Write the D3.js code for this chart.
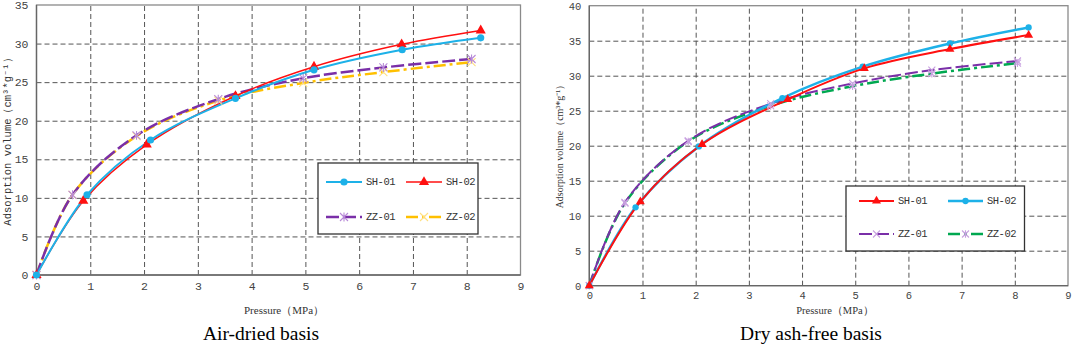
<!DOCTYPE html>
<html><head><meta charset="utf-8">
<script src="https://cdn.jsdelivr.net/npm/d3@7"></script>
<style>
html,body{margin:0;padding:0;background:#fff;}
svg{display:block;}
</style></head>
<body>
<svg id="c" width="1072" height="346"></svg>
<script>
// ---------- DATA ----------
const xTicks = [0,1,2,3,4,5,6,7,8,9];
const adYTicks = [0,5,10,15,20,25,30,35];
const dafYTicks = [0,5,10,15,20,25,30,35,40];

// Air-dried basis
const adSH01P = [0,0.94,2.12,3.70,5.16,6.80,8.26];
const adSH01V = [0,10.4,17.5,22.9,26.6,29.2,30.75];
const adSH02P = [0,0.87,2.05,3.70,5.16,6.79,8.26];
const adSH02V = [0,9.6,16.9,23.2,27.0,29.9,31.7];
const adZZ01P = [0,0.67,1.86,3.38,4.96,6.45,8.09];
const adZZ01V = [0,10.4,18.1,22.8,25.5,26.9,28.0];
const adZZ02P = [0,0.67,1.86,3.38,4.96,6.45,8.09];
const adZZ02V = [0,10.4,18.0,22.6,24.9,26.3,27.6];

// Dry ash-free basis
const dafSH01P = [0,0.96,2.12,3.73,5.17,6.78,8.26];
const dafSH01V = [0,12.0,20.2,26.6,31.05,33.8,35.8];
const dafSH02P = [0,0.87,2.06,3.63,5.14,6.78,8.26];
const dafSH02V = [0,11.2,19.9,26.8,31.3,34.6,36.9];
const dafZZ01P = [0,0.67,1.86,3.41,4.95,6.44,8.05];
const dafZZ01V = [0,11.9,20.7,26.0,28.9,30.8,32.1];
const dafZZ02P = [0,0.67,1.86,3.41,4.95,6.44,8.05];
const dafZZ02V = [0,11.8,20.6,25.7,28.5,30.3,31.8];

const seriesNames = ["SH-01","SH-02","ZZ-01","ZZ-02"];
const yTitle = "Adsorption volume\uFF08cm\u00B3*g\u207B\u00B9\uFF09";
const xTitle = "Pressure\uFF08MPa\uFF09";
const captions = ["Air-dried basis","Dry ash-free basis"];

// ---------- DRAWING ----------
const svg = d3.select("#c");
const MONO = "'Liberation Mono','DejaVu Sans Mono',monospace";
const SERIF = "'Liberation Serif','Times New Roman',serif";

function zip(p,v){ return p.map((d,i)=>({x:d,y:v[i]})); }

function marker(g, type, x, y, color, s){
  if(type==="circle"){
    g.append("circle").attr("cx",x).attr("cy",y).attr("r",s*0.45).attr("fill",color);
  } else if(type==="tri"){
    g.append("path").attr("d",d3.symbol(d3.symbolTriangle, s*s*0.55)()).attr("transform",`translate(${x},${y})`).attr("fill",color);
  } else if(type==="star"){
    const r=s*0.5;
    g.append("path").attr("d",`M${x-r},${y-r}L${x+r},${y+r}M${x-r},${y+r}L${x+r},${y-r}M${x},${y-r*1.1}L${x},${y+r*1.1}`)
      .attr("stroke",color).attr("stroke-width",1.1).attr("fill","none");
  } else if(type==="x"){
    const r=s*0.5;
    g.append("path").attr("d",`M${x-r},${y-r}L${x+r},${y+r}M${x-r},${y+r}L${x+r},${y-r}`)
      .attr("stroke",color).attr("stroke-width",1.1).attr("fill","none");
  }
}

function chart(cfg){
  const g = svg.append("g");
  const x = d3.scaleLinear().domain([0,9]).range([cfg.x0,cfg.x1]);
  const y = d3.scaleLinear().domain([0,cfg.ymax]).range([cfg.y0,cfg.y1]);

  // grid
  g.append("g").attr("transform",`translate(0,${cfg.y0})`)
    .call(d3.axisBottom(x).tickValues(xTicks.slice(1,-1)).tickSize(-(cfg.y0-cfg.y1)).tickFormat(""))
    .call(a=>a.select(".domain").remove())
    .call(a=>a.selectAll("line").attr("stroke","#555").attr("stroke-dasharray","5,3").attr("stroke-width",1));
  g.append("g").attr("transform",`translate(${cfg.x0},0)`)
    .call(d3.axisLeft(y).tickValues(cfg.yTicks.slice(1,-1)).tickSize(-(cfg.x1-cfg.x0)).tickFormat(""))
    .call(a=>a.select(".domain").remove())
    .call(a=>a.selectAll("line").attr("stroke","#555").attr("stroke-dasharray","5,3").attr("stroke-width",1));
  // frame
  g.append("rect").attr("x",cfg.x0).attr("y",cfg.y1).attr("width",cfg.x1-cfg.x0).attr("height",cfg.y0-cfg.y1)
    .attr("fill","none").attr("stroke","#8a8a8a").attr("stroke-width",1.3);
  g.append("line").attr("x1",cfg.x0).attr("x2",cfg.x1).attr("y1",cfg.y0).attr("y2",cfg.y0).attr("stroke","#666").attr("stroke-width",1.3);
  g.append("line").attr("x1",cfg.x0).attr("x2",cfg.x0).attr("y1",cfg.y0).attr("y2",cfg.y1).attr("stroke","#666").attr("stroke-width",1.3);

  // tick labels
  g.append("g").attr("transform",`translate(0,${cfg.y0})`)
    .call(d3.axisBottom(x).tickValues(xTicks).tickSize(0).tickPadding(cfg.xPad))
    .call(a=>a.select(".domain").remove())
    .call(a=>a.selectAll("text").attr("font-family",MONO).attr("font-size",cfg.tickFs).attr("fill","#444"));
  g.append("g").attr("transform",`translate(${cfg.x0},0)`)
    .call(d3.axisLeft(y).tickValues(cfg.yTicks).tickSize(0).tickPadding(cfg.yPad))
    .call(a=>a.select(".domain").remove())
    .call(a=>a.selectAll("text").attr("font-family",MONO).attr("font-size",cfg.tickFs).attr("fill","#444"));

  // axis titles
  g.append("text").attr("x",cfg.xtX).attr("y",cfg.xtY).attr("text-anchor","middle")
    .attr("font-family",SERIF).attr("font-size",cfg.xtFs).attr("fill","#333").text(xTitle);
  g.append("text").attr("transform",`translate(${cfg.ytX},${cfg.ytY}) rotate(-90)`).attr("text-anchor","middle")
    .attr("dominant-baseline","middle")
    .attr("font-family",cfg.ytFont).attr("font-size",cfg.ytFs).attr("fill","#333").text(yTitle);
  // caption
  g.append("text").attr("x",cfg.capX).attr("y",340).attr("text-anchor","middle")
    .attr("font-family",SERIF).attr("font-size",19.5).attr("fill","#000").text(cfg.caption);

  // series
  const line = d3.line().x(d=>x(d.x)).y(d=>y(d.y)).curve(d3.curveCatmullRom.alpha(0.5));
  const order = cfg.series.slice().reverse();
  order.forEach(s=>{
    const data = zip(s.p,s.v);
    g.append("path").datum(data).attr("d",line).attr("fill","none")
      .attr("stroke",s.color).attr("stroke-width",s.w).attr("stroke-dasharray",s.dash||null);
  });
  order.forEach(s=>{
    zip(s.p,s.v).forEach(d=>marker(g,s.mk,x(d.x),y(d.y),s.mkColor,s.mkSize));
  });

  // legend
  const L = cfg.legend;
  g.append("rect").attr("x",L.x).attr("y",L.y).attr("width",L.w).attr("height",L.h)
    .attr("fill","#fff").attr("stroke","#333").attr("stroke-width",1.3);
  cfg.series.forEach((s,i)=>{
    const col=i%2, row=Math.floor(i/2);
    const lx = L.x + L.c[col], ly = L.y + L.r[row];
    g.append("line").attr("x1",lx).attr("x2",lx+L.len).attr("y1",ly).attr("y2",ly)
      .attr("stroke",s.color).attr("stroke-width",s.w).attr("stroke-dasharray",s.dash||null);
    marker(g,s.mk,lx+L.len/2,ly,s.mkColor,s.mkSize);
    g.append("text").attr("x",lx+L.len+4).attr("y",ly).attr("dominant-baseline","central")
      .attr("font-family",MONO).attr("font-size",L.fs).attr("letter-spacing",-0.5).attr("fill","#333").text(seriesNames[i]);
  });
}

const CY="#1DB1E8", RED="#FF1010", PUR="#7A2FA8", YEL="#FFC000", GRN="#00A850";

chart({
  x0:36.5,x1:520.5,y0:275,y1:5,ymax:35,yTicks:adYTicks,
  tickFs:11.5,xPad:7,yPad:8,
  xtX:284,xtY:314,xtFs:11,ytX:8,ytY:139,ytFs:10.5,ytFont:MONO,
  capX:261,caption:captions[0],
  series:[
    {p:adSH01P,v:adSH01V,color:CY,w:2,mk:"circle",mkColor:CY,mkSize:8},
    {p:adSH02P,v:adSH02V,color:RED,w:1.5,mk:"tri",mkColor:RED,mkSize:9},
    {p:adZZ01P,v:adZZ01V,color:PUR,w:2.5,dash:"13,4",mk:"star",mkColor:"#B88AD8",mkSize:8},
    {p:adZZ02P,v:adZZ02V,color:YEL,w:2.5,dash:"12,4,3,4",mk:"x",mkColor:"#FFE080",mkSize:8}
  ],
  legend:{x:318,y:163,w:160,h:71,c:[8,88],r:[19,54],len:36,fs:10.5}
});

chart({
  x0:589.3,x1:1068,y0:285.7,y1:5.7,ymax:40,yTicks:dafYTicks,
  tickFs:10.5,xPad:6,yPad:8,
  xtX:835,xtY:314,xtFs:10.5,ytX:561,ytY:144,ytFs:10,ytFont:SERIF,
  capX:811,caption:captions[1],
  series:[
    {p:dafSH01P,v:dafSH01V,color:RED,w:2,mk:"tri",mkColor:RED,mkSize:8},
    {p:dafSH02P,v:dafSH02V,color:CY,w:2.5,mk:"circle",mkColor:CY,mkSize:7},
    {p:dafZZ01P,v:dafZZ01V,color:PUR,w:2,dash:"13,4",mk:"x",mkColor:"#C8A0E0",mkSize:7},
    {p:dafZZ02P,v:dafZZ02V,color:GRN,w:2.5,dash:"12,4,3,4",mk:"star",mkColor:"#C8A0E0",mkSize:7}
  ],
  legend:{x:846,y:186,w:178.5,h:65,c:[13,102],r:[15,48],len:35,fs:10.5}
});
</script>
</body></html>
